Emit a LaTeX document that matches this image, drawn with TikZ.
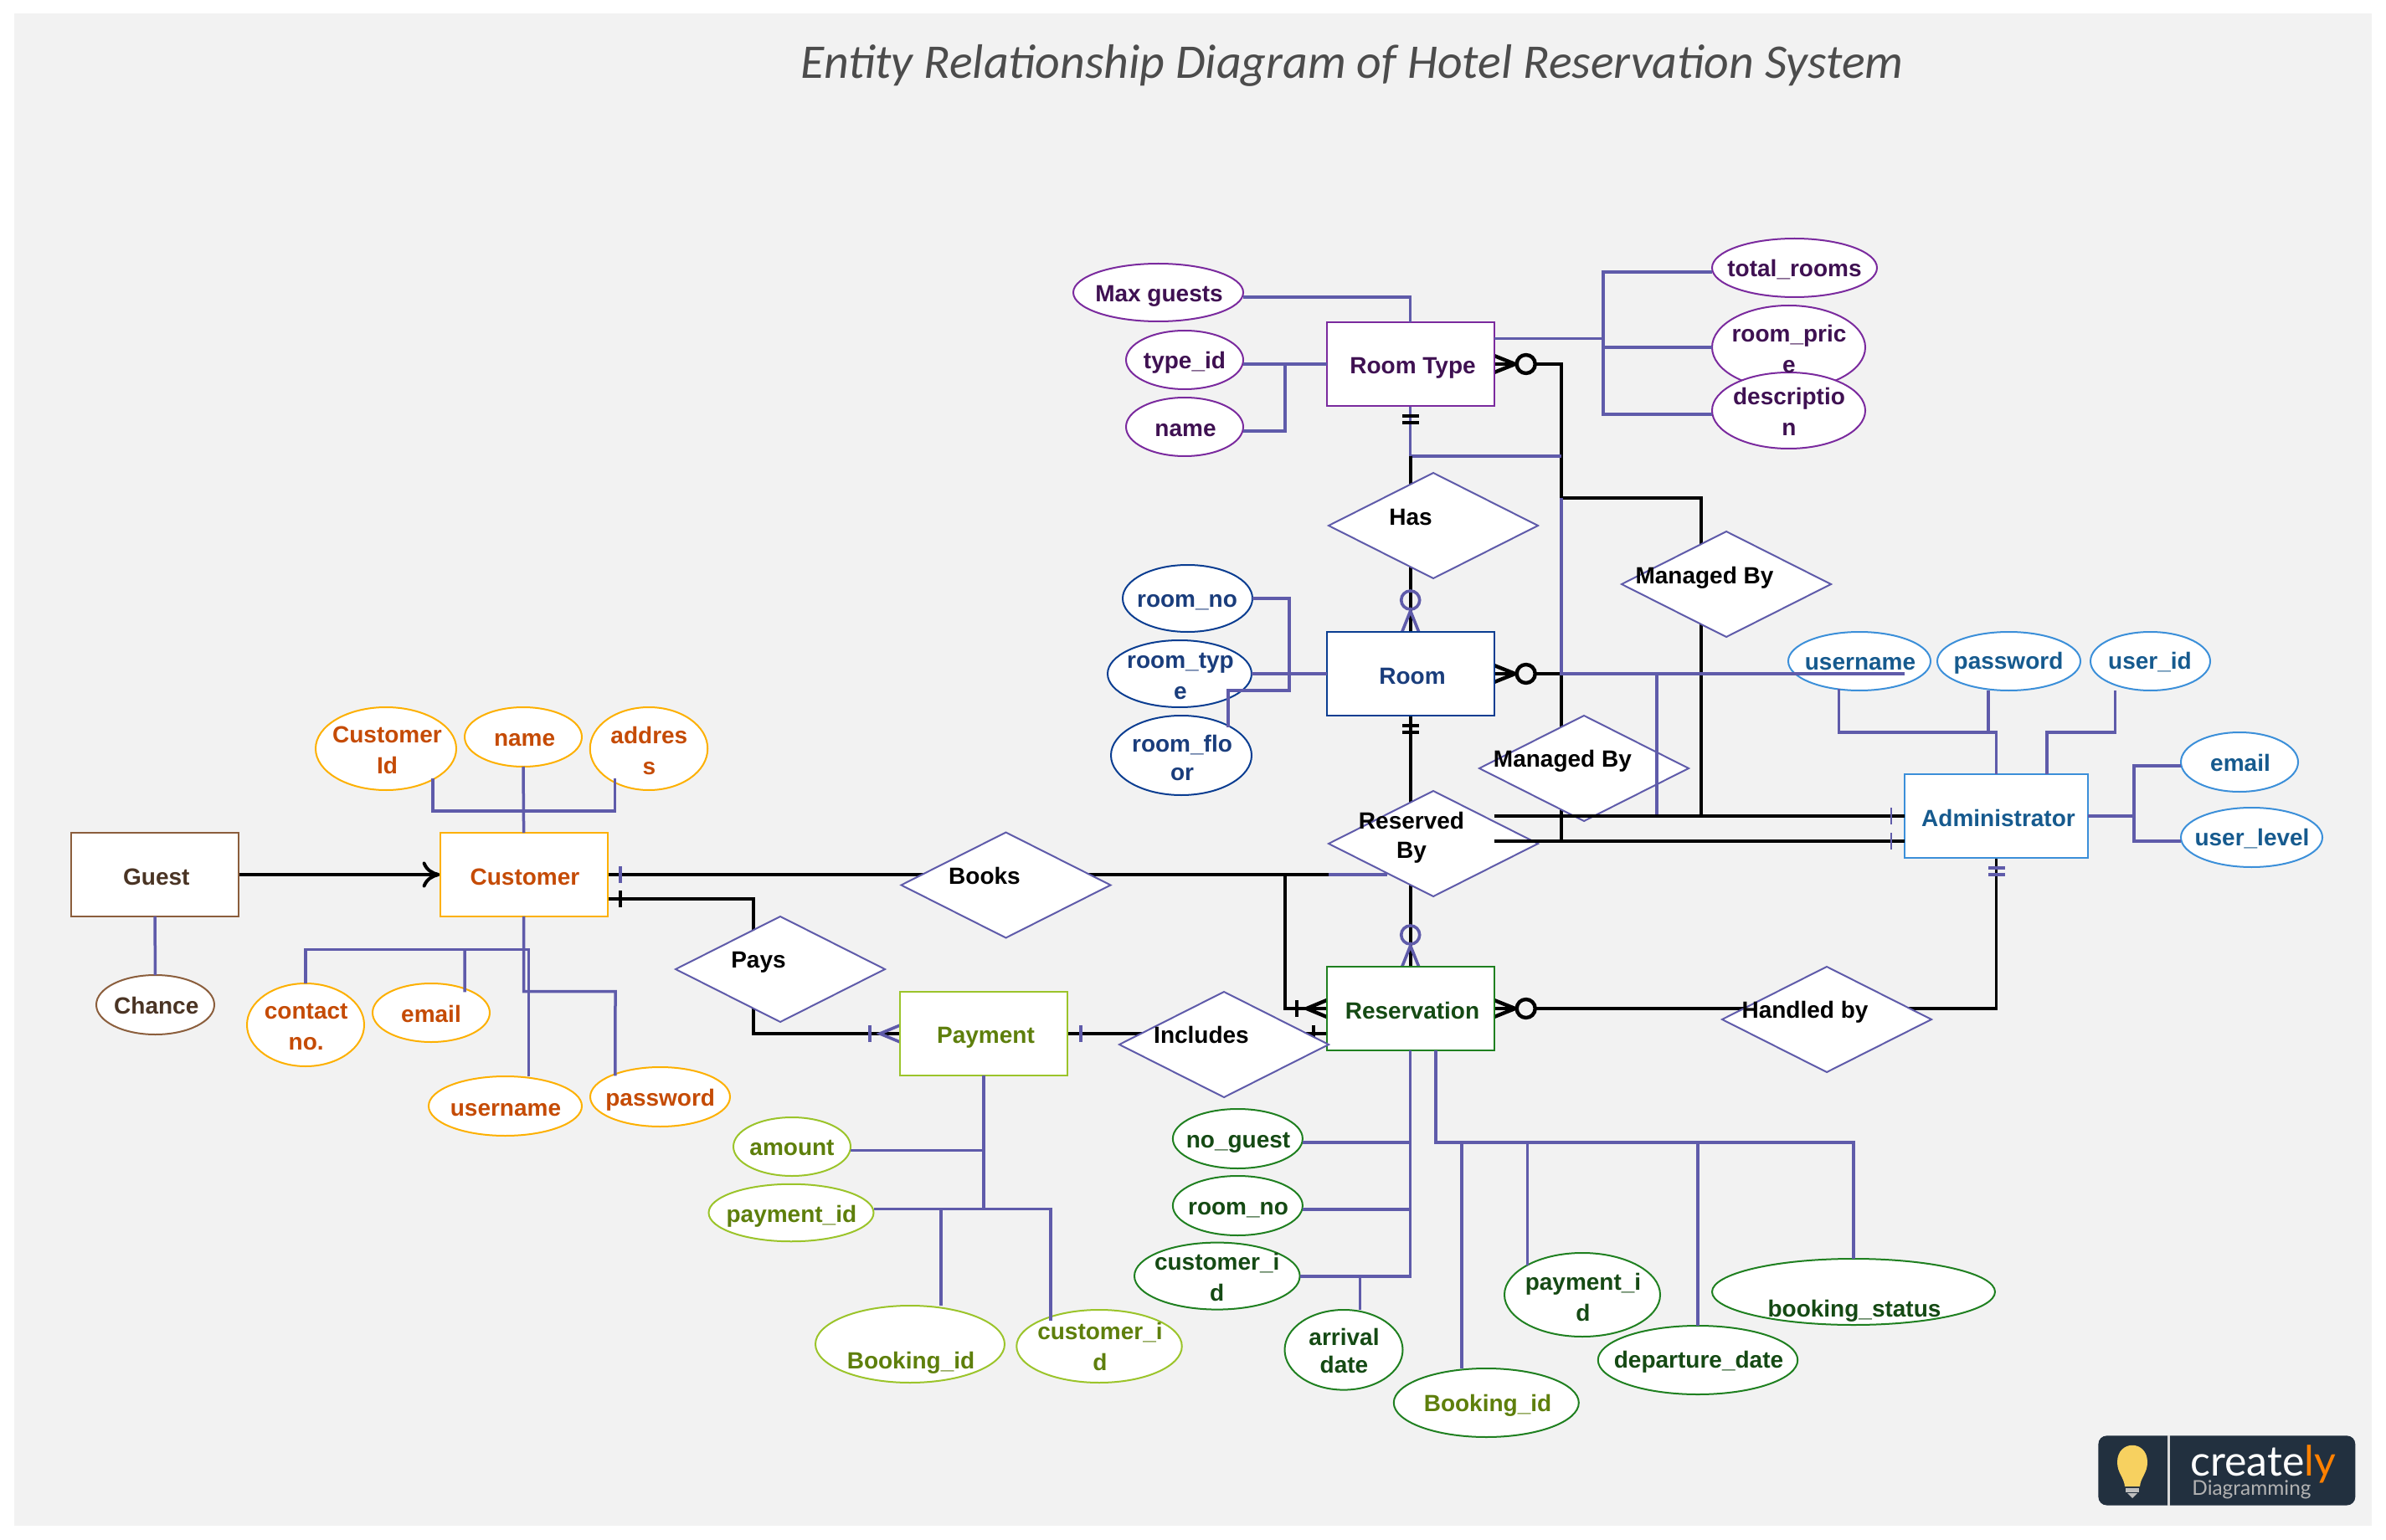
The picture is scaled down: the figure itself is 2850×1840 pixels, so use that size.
\documentclass[tikz,border=0pt]{standalone}
\usepackage{fontspec}
\setmainfont{Liberation Sans}
\newfontfamily\titlefont{Carlito}
\newfontfamily\logofont{Lato}
\usetikzlibrary{shapes.geometric,arrows.meta}
\pgfdeclarelayer{bglayer}\pgfdeclarelayer{conn}\pgfdeclarelayer{front}\pgfdeclarelayer{txt}
\pgfsetlayers{bglayer,conn,main,front,txt}
\definecolor{bgc}{HTML}{F2F2F2}
\definecolor{pl}{HTML}{5F5BAA}
\definecolor{rtb}{HTML}{7A2A9E}\definecolor{rtt}{HTML}{3F1152}
\definecolor{rmb}{HTML}{0A3D91}\definecolor{rmt}{HTML}{1A3D7C}
\definecolor{adb}{HTML}{3B8FD9}\definecolor{adt}{HTML}{165A8E}
\definecolor{rvb}{HTML}{1F8020}\definecolor{rvt}{HTML}{154A14}
\definecolor{pyb}{HTML}{9BC42A}\definecolor{pyt}{HTML}{5E7F0C}
\definecolor{cub}{HTML}{FDB000}\definecolor{cut}{HTML}{C54B05}
\definecolor{gub}{HTML}{8B5E3C}\definecolor{gut}{HTML}{4A3424}
\definecolor{lgbg}{RGB}{34,48,63}
\definecolor{lgbulb}{RGB}{247,209,96}
\tikzset{
 wd/.style={minimum width=#1*0.5pt},
 ht/.style={minimum height=#1*0.5pt},
 ent/.style={rectangle,draw=#1,fill=white,line width=1pt,inner sep=0,outer sep=0,minimum width=100pt,minimum height=50pt},
 attr/.style={ellipse,draw=#1,fill=white,line width=1pt,inner sep=0,outer sep=0},
 rel/.style={diamond,draw=pl,fill=white,line width=1pt,inner sep=0,outer sep=0,minimum width=125pt,minimum height=63pt},
 lbl/.style={font=\bfseries\fontsize{14}{18.5}\selectfont,inner sep=0,outer sep=0,align=center},
 bk/.style={draw=black,line width=1.8pt,line join=miter},
 pu/.style={draw=pl,line width=1.75pt,line join=miter},
 markb/.style={draw=black,line width=2.2pt},
 markp/.style={draw=pl,line width=1.8pt},
 zerom/.pic={\draw[pic actions,fill=none] (0,-10)--(25,0)--(0,10);
   \draw[pic actions] (38,0) circle[radius=5.5pt];},
 onem/.pic={\draw[pic actions] (0,-10)--(24,0)--(0,10); \draw[pic actions] (36,-10)--(36,10);},
 onlyone/.pic={\draw[pic actions] (12,-10)--(12,10); \draw[pic actions] (20,-10)--(20,10);},
 onetick/.pic={\draw[pic actions] (0,-10)--(0,10);}
}
\begin{document}
\begin{tikzpicture}[x=0.5pt,y=-0.5pt]
\useasboundingbox (0,0) rectangle (2850,1840);
\begin{pgfonlayer}{bglayer}
\fill[white] (0,0) rectangle (2850,1840);
\fill[bgc] (17,16) rectangle (2833,1823);
\end{pgfonlayer}

% entities
\node[ent=rtb] (rt) at (1684.7,435) {};
\node[ent=rmb] (rm) at (1684.7,805) {};
\node[ent=rvb] (rv) at (1684.7,1205) {};
\node[ent=adb,wd=219] (adm) at (2384.5,975) {};
\node[ent=pyb] (pay) at (1175,1235) {};
\node[ent=cub] (cust) at (625.6,1045) {};
\node[ent=gub] (guest) at (185,1045) {};

% relationships
\node[rel] (has) at (1712,628) {};
\node[rel] (mb1) at (2062,698) {};
\node[rel] (mb2) at (1892,918) {};
\node[rel] (res) at (1712,1008) {};
\node[rel] (books) at (1201.5,1057.5) {};
\node[rel] (pays) at (932,1158) {};
\node[rel] (incl) at (1462,1248) {};
\node[rel] (hand) at (2182,1218) {};

% attributes
\node[attr=rtb,wd=203,ht=69] (mg) at (1383.5,349.5) {};
\node[attr=rtb,wd=140,ht=70] (tid) at (1415,430) {};
\node[attr=rtb,wd=140,ht=70] (rtn) at (1415,510) {};
\node[attr=rtb,wd=197,ht=70] (tr) at (2143.5,320) {};
\node[attr=rtb,wd=183,ht=100] (rp) at (2136.5,415) {};
\node[attr=rtb,wd=183,ht=91] (ds) at (2136.5,490.5) {};
\node[attr=rmb,wd=155,ht=80] (rno) at (1418.5,715) {};
\node[attr=rmb,wd=172,ht=80] (rty) at (1409,805) {};
\node[attr=rmb,wd=168,ht=95] (rfl) at (1411,902.5) {};
\node[attr=adb,wd=170,ht=70] (au) at (2221,790) {};
\node[attr=adb,wd=171,ht=70] (ap) at (2399.5,790) {};
\node[attr=adb,wd=143,ht=70] (ai) at (2568.5,790) {};
\node[attr=adb,wd=140,ht=71] (ae) at (2675,910.5) {};
\node[attr=adb,wd=169,ht=71] (al) at (2689.5,1000.5) {};
\node[attr=cub,wd=168,ht=99] (cid) at (461,894.5) {};
\node[attr=cub,wd=140,ht=71] (cn) at (625,880.5) {};
\node[attr=cub,wd=140.5,ht=99] (ca) at (775,894.5) {};
\node[attr=gub,wd=141,ht=71] (ch) at (185.5,1200.5) {};
\node[attr=cub,wd=140,ht=99] (cc) at (365,1224.5) {};
\node[attr=cub,wd=140,ht=70] (ce) at (515,1210) {};
\node[attr=cub,wd=183,ht=71] (cu) at (603.5,1321.5) {};
\node[attr=cub,wd=167,ht=71] (cp) at (788.5,1310.5) {};
\node[attr=pyb,wd=140,ht=70] (pa) at (946,1370) {};
\node[attr=pyb,wd=197,ht=68.5] (pi) at (945,1449) {};
\node[attr=pyb,wd=226,ht=92] (pb) at (1087,1606) {};
\node[attr=pyb,wd=197.5,ht=87] (pc) at (1313,1608.5) {};
\node[attr=rvb,wd=155,ht=71] (vg) at (1478.4,1360.5) {};
\node[attr=rvb,wd=155,ht=71] (vr) at (1478.4,1440.5) {};
\node[attr=rvb,wd=197.6,ht=80] (vc) at (1453.8,1524.6) {};
\node[attr=rvb,wd=141,ht=95.6] (va) at (1605,1612.8) {};
\node[attr=rvb,wd=221,ht=82] (vb) at (1775.3,1676) {};
\node[attr=rvb,wd=186,ht=100] (vp) at (1890,1547) {};
\node[attr=rvb,wd=338,ht=79] (vs) at (2214,1543.5) {};
\node[attr=rvb,wd=238.5,ht=82] (vd) at (2028,1625) {};

% junction coordinates
\coordinate (jrt) at (1865,435);
\coordinate (ja) at (1865,595);
\coordinate (jb) at (1865,805);
\coordinate (jx) at (1865,545);
\coordinate (jc) at (2032,595);
\coordinate (jd) at (2032,975);
\coordinate (je) at (1865,1005);
\coordinate (jbk) at (1535,1045);
\coordinate (jbl) at (1587,1045);
\coordinate (jbm) at (1657,1045);
\coordinate (jp1) at (900,1074);
\coordinate (jp2) at (900,1235);
\coordinate (jpu) at (1979,805);
\coordinate (jpv) at (1979,975);
\coordinate (jrr) at (1915,404.6);
\coordinate (jcu) at (735,1184.6);

\begin{pgfonlayer}{conn}
\draw[bk] (rt.east) -- (jrt) -- (ja) -- (jc) -- (jd);
\draw[bk] (rm.east) -- (jb) -- (je);
\draw[pu] (rt.south) -- (rt.south |- jx) -- (jx);
\draw[bk] (rt.south |- jx) -- (rm.north);
\draw[bk] (rm.south) -- (rv.north);
\draw[bk] (cust.east) -- (jbl);
\draw[pu] (jbl) -- (jbm);
\draw[bk] (jbk) |- (rv.west);
\draw[bk] (cust.east |- jp1) -- (jp1) -- (jp2) -- (pay.west);
\draw[bk] (pay.east) -- (rv.west |- pay.east);
\draw[bk] (rv.east) -- (adm.south |- rv.east) -- (adm.south);
\draw[bk,line width=2pt,-{Computer Modern Rightarrow[length=10.5pt,width=15.5pt]}] (guest.east) -- (cust.west);
% cardinality marks
\pic[markb,fill=bgc] at (rt.east) {zerom};
\pic[markb,fill=bgc] at (rm.east) {zerom};
\pic[markb,fill=bgc] at (rv.east) {zerom};
\pic[markp,rotate=90] at (rm.north) {zerom};
\pic[markp,rotate=90] at (rv.north) {zerom};
\pic[markb,rotate=-90] at (rt.south) {onlyone};
\pic[markb,rotate=-90] at (rm.south) {onlyone};
\pic[markp,rotate=-90] at (adm.south) {onlyone};
\pic[markb,rotate=180] at (rv.west) {onem};
\pic[markp,rotate=180] at (pay.west) {onem};
\pic[markp] at ([xshift=7.75pt]cust.east) {onetick};
\pic[markb] at ([xshift=7.75pt]cust.east |- jp1) {onetick};
\pic[markp] at ([xshift=8pt]pay.east) {onetick};
\pic[markb] at ([xshift=-8pt]rv.west |- pay.east) {onetick};
\end{pgfonlayer}

\begin{pgfonlayer}{front}
% lines drawn over the relationship shapes
\draw[pu] (ja) -- (jb) -- (adm.west |- jb);
\draw[pu] (jpu) -- (jpv);
\draw[bk,line width=2pt] (rm.east |- adm.west) -- (adm.west);
\draw[bk,line width=2pt] (rm.east |- je) -- (adm.west |- je);
\pic[markp,line width=1.2pt] at ([xshift=-8pt]adm.west) {onetick};
\pic[markp,line width=1.2pt] at ([xshift=-8pt]adm.west |- je) {onetick};
% Room Type attributes
\draw[pu] (mg.east |- 0,355) -| (rt.north);
\draw[pu] (tid.east |- rt.west) -- (rt.west);
\draw[pu] (rtn.east |- 0,515) -| (1535,435);
\draw[pu] (rt.east |- jrr) -- (jrr);
\draw[pu] (tr.west |- 0,325) -| (1915,495) -- (ds.west |- 0,495);
\draw[pu] (1915,415) -- (rp.west);
% Room attributes
\draw[pu] (rno.east) -- (1540,715) -- (1540,825) -- ([xshift=-1.75pt]rfl.north east |- 0,825) -- ([xshift=-1.75pt]rfl.north east);
\draw[pu] (rty.east) -- (rm.west);
% Administrator attributes
\draw[pu] (2196.5,823) -- (2196.5,875) -- (adm.north |- 0,875) -- (adm.north);
\draw[pu] (ap.south -| 2375,0) -- (2375,875);
\draw[pu] (adm.north -| 2445,0) -- (2445,875) -- (2526.5,875) -- (ai.south -| 2526.5,0);
\draw[pu] (adm.east) -- (2549,975);
\draw[pu] (ae.west |- 0,915) -- (2549,915) -- (2549,1005) -- (al.west |- 0,1005);
% Customer attributes
\draw[pu] ([xshift=-1.75pt]cid.south east) -- ([xshift=-1.75pt]cid.south east |- 0,969) -- ([xshift=4.7pt]ca.south west |- 0,969) -- ([xshift=4.7pt]ca.south west);
\draw[pu] (cn.south) -- (cust.north);
\draw[pu] (cust.south) -- (cust.south |- jcu) -- (jcu) -- ([xshift=2.75pt]cp.north west);
\draw[pu] (cc.north) -- (cc.north |- 0,1134.6) -- (631.5,1134.6) -- (cu.north -| 631.5,0);
\draw[pu] (555,1134.6) -- ([xshift=-4.75pt]ce.north east);
\draw[pu] (guest.south) -- (ch.north);
% Payment attributes
\draw[pu] (pay.south) -- (pay.south |- 0,1444.4);
\draw[pu] (pa.east |- 0,1374.4) -- (pay.south |- 0,1374.4);
\draw[pu] (pi.east |- 0,1444.4) -- ([xshift=6pt]pc.north west |- 0,1444.4) -- ([xshift=6pt]pc.north west);
\draw[pu] (1124,1444.4) -- (pb.north -| 1124,0);
% Reservation attributes
\draw[pu] (rv.south) -- (rv.south |- 0,1524.8) -- (vc.east |- 0,1524.8);
\draw[pu] (vg.east |- 0,1364.8) -- (rv.south |- 0,1364.8);
\draw[pu] (vr.east |- 0,1444.8) -- (rv.south |- 0,1444.8);
\draw[pu] (1624.6,1524.8) -- (va.north -| 1624.6,0);
\draw[pu] (rv.south -| 1715,0) -- (1715,1365) -- (vs.north |- 0,1365) -- (vs.north);
\draw[pu] (1746,1365) -- (vb.north -| 1746,0);
\draw[pu] (vp.north west |- 0,1365) -- (vp.north west);
\draw[pu] (vd.north |- 0,1365) -- (vd.north);
\end{pgfonlayer}

\begin{pgfonlayer}{txt}
\node[font=\titlefont\itshape\fontsize{28.9}{34}\selectfont,text=black!70,inner sep=0,anchor=base] (title) at (1615,94) {Entity Relationship Diagram of Hotel Reservation System};
\node[lbl,text=rtt] (t1) at (1687.5,440) {Room Type};
\node[lbl,text=rtt] (t2) at (1384.5,353.5) {Max guests};
\node[lbl,text=rtt] (t3) at (1415,433) {type\_id};
\node[lbl,text=rtt] (t4) at (1416,514) {name};
\node[lbl,text=rtt] (t5) at (2143.5,322) {total\_rooms};
\node[lbl,text=rtt] (t6) at (2137,417) {room\_pric\\e};
\node[lbl,text=rtt] (t7) at (2137,492) {descriptio\\n};
\node[lbl,text=black] (t8) at (1685,618) {Has};
\node[lbl,text=black] (t9) at (2036,690) {Managed By};
\node[lbl,text=rmt] (t10) at (1418,720) {room\_no};
\node[lbl,text=rmt] (t11) at (1410,808) {room\_typ\\e};
\node[lbl,text=rmt] (t12) at (1412,905) {room\_flo\\[-1.5pt]or};
\node[lbl,text=rmt] (t13) at (1687,808) {Room};
\node[lbl,text=adt] (t14) at (2222,793) {username};
\node[lbl,text=black] (t15) at (1866.4,909.6) {Managed By};
\node[lbl,text=black] (t16) at (1686,1001) {Reserved\\[-1pt]By};
\node[lbl,text=adt] (t17) at (2387,977) {Administrator};
\node[lbl,text=adt] (t18) at (2399,792) {password};
\node[lbl,text=adt] (t19) at (2568,791) {user\_id};
\node[lbl,text=adt] (t20) at (2676,911) {email};
\node[lbl,text=adt] (t21) at (2690,1001.7) {user\_level};
\node[lbl,text=rvt] (t22) at (1687,1207) {Reservation};
\node[lbl,text=black] (t23) at (2156,1209) {Handled by};
\node[lbl,text=cut] (t24) at (462.5,896) {Customer\\Id};
\node[lbl,text=cut] (t25) at (626.6,884) {name};
\node[lbl,text=cut] (t26) at (775.4,897) {addres\\s};
\node[lbl,text=gut] (t27) at (186.8,1048) {Guest};
\node[lbl,text=cut] (t28) at (627,1048) {Customer};
\node[lbl,text=gut] (t29) at (186.8,1201) {Chance};
\node[lbl,text=cut] (t30) at (365.7,1226.5) {contact\\no.};
\node[lbl,text=cut] (t31) at (515,1211) {email};
\node[lbl,text=cut] (t32) at (604,1326) {username};
\node[lbl,text=cut] (t33) at (788.7,1314) {password};
\node[lbl,text=black] (t34) at (906,1150) {Pays};
\node[lbl,text=black] (t35) at (1176,1046) {Books};
\node[lbl,text=pyt] (t36) at (1177.5,1240) {Payment};
\node[lbl,text=black] (t37) at (1435,1236) {Includes};
\node[lbl,text=pyt] (t38) at (946,1371.7) {amount};
\node[lbl,text=pyt] (t39) at (945.4,1453) {payment\_id};
\node[lbl,text=pyt] (t40) at (1088,1628) {Booking\_id};
\node[lbl,text=pyt] (t41) at (1314,1609) {customer\_i\\d};
\node[lbl,text=rvt] (t42) at (1479,1365) {no\_guest};
\node[lbl,text=rvt] (t43) at (1479,1445.5) {room\_no};
\node[lbl,text=rvt] (t44) at (1453.7,1525.5) {customer\_i\\d};
\node[lbl,text=rvt] (t45) at (1605.5,1614) {arrival\\[-1.7pt]date};
\node[lbl,text=rvt] (t46) at (1891,1549.5) {payment\_i\\d};
\node[lbl,text=rvt] (t47) at (2215,1566.4) {booking\_status};
\node[lbl,text=rvt] (t48) at (2029,1627) {departure\_date};
\node[lbl,text=pyt] (t49) at (1777,1679) {Booking\_id};
% logo
\fill[lgbg,rounded corners=5pt] (2506.4,1715.4) rectangle (2813.3,1798.5);
\fill[white!85!black] (2588.5,1715.4) rectangle (2591.5,1798.5);
\fill[lgbulb] (2529,1747) .. controls (2529,1720) and (2565,1720) .. (2565,1747) .. controls (2565,1760) and (2557,1765) .. (2556,1776) -- (2538,1776) .. controls (2537,1765) and (2529,1760) .. (2529,1747) -- cycle;
\fill[white!75!black] (2539,1778) rectangle (2555,1783);
\fill[white!75!black] (2541,1784) -- (2553,1784) -- (2547,1790) -- cycle;
\node[font=\logofont\fontsize{25}{28}\selectfont,text=white,anchor=base west,inner sep=0] (lg1) at (2616,1763.5) {create\textcolor{orange}{ly}};
\node[font=\logofont\fontsize{12.2}{14}\selectfont,text=white!70!black,anchor=base west,inner sep=0] (lg2) at (2618,1786) {Diagramming};
\end{pgfonlayer}
\end{tikzpicture}
\end{document}
